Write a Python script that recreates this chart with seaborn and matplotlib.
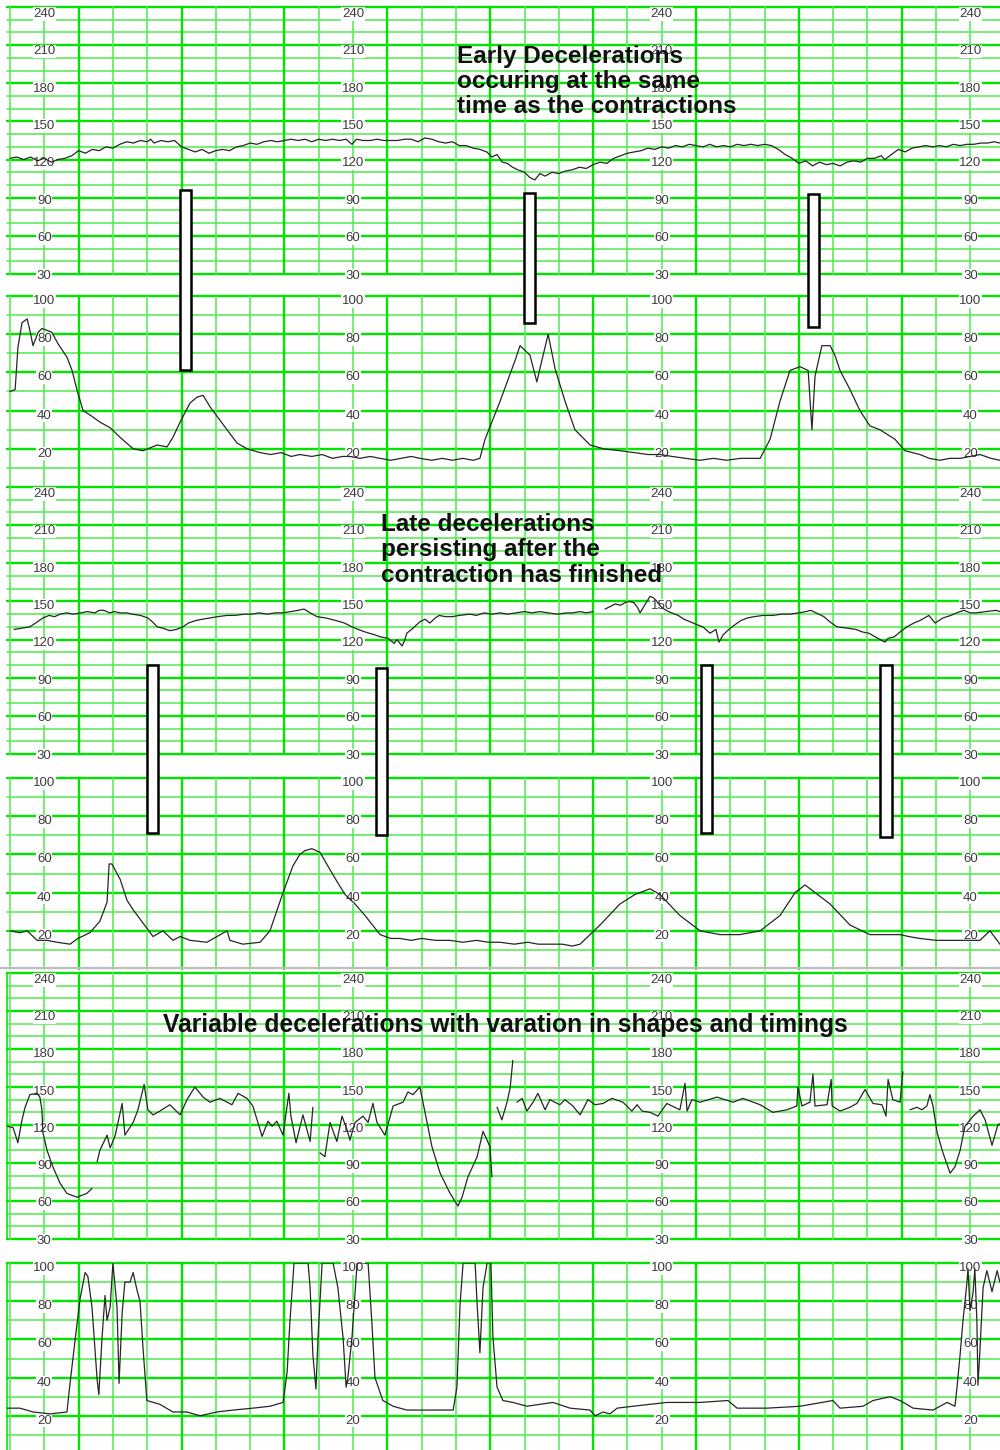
import numpy as np
import pandas as pd
import matplotlib
matplotlib.use("Agg")
import matplotlib.pyplot as plt
import seaborn as sns
from matplotlib.patches import Rectangle
from matplotlib.lines import Line2D

# ---------------- DATA ----------------
# time axis: chart minutes (one thin vertical grid line per unit)
NaN = np.nan

# strip 1 - early decelerations
fhr1_t = [0.0, 0.2, 0.4, 0.6, 0.8, 1.0, 1.2, 1.4, 1.6, 1.8, 2.0, 2.2, 2.4, 2.6, 2.8, 3.0, 3.2, 3.4,
          3.6, 3.8, 4.0, 4.1, 4.2, 4.4, 4.6, 4.8, 5.0, 5.2, 5.4, 5.6, 5.8, 6.0, 6.2, 6.4, 6.6, 6.8,
          7.0, 7.2, 7.4, 7.6, 7.8, 8.0, 8.2, 8.4, 8.6, 8.8, 9.0, 9.2, 9.4, 9.6, 9.8, 9.97, 10.1,
          10.3, 10.5, 10.7, 10.9, 11.1, 11.3, 11.5, 11.7, 11.9, 12.1, 12.3, 12.5, 12.7, 12.9, 13.1,
          13.3, 13.5, 13.7, 13.9, 14.05, 14.2, 14.35, 14.5, 14.65, 14.8, 15.0, 15.15, 15.3, 15.45,
          15.6, 15.8, 16.0, 16.2, 16.4, 16.6, 16.8, 17.0, 17.2, 17.4, 17.6, 17.8, 18.0, 18.2, 18.4,
          18.6, 18.8, 19.0, 19.2, 19.4, 19.6, 19.8, 20.0, 20.2, 20.4, 20.6, 20.8, 21.0, 21.2, 21.4,
          21.6, 21.8, 22.0, 22.2, 22.4, 22.6, 22.8, 23.0, 23.2, 23.4, 23.6, 23.8, 24.0, 24.2, 24.4,
          24.6, 24.8, 25.0, 25.2, 25.4, 25.5, 25.7, 25.9, 26.1, 26.3, 26.5, 26.7, 26.9, 27.1, 27.3,
          27.5, 27.7, 27.9, 28.1, 28.3, 28.5, 28.7, 28.86]
fhr1_v = [121, 122, 120, 122, 119, 121, 118, 120, 121, 123, 127, 125, 128, 127, 130, 129, 132, 134,
          133, 135, 134, 136, 133, 135, 134, 135, 130, 128, 126, 128, 125, 127, 128, 127, 130, 131,
          133, 132, 134, 135, 134, 135, 136, 135, 136, 134, 136, 135, 136, 135, 136, 132, 136,
          135, 135, 136, 135, 135, 135, 136, 136, 134, 137, 136, 134, 133, 134, 131,
          131, 129, 128, 126, 122, 124, 118, 117, 114, 112, 110, 106, 104, 109,
          107, 110, 109, 111, 112, 114, 113, 116, 118, 117, 121, 123, 125, 126, 127,
          129, 128, 130, 129, 131, 130, 132, 131, 130, 132, 130, 131, 130, 132, 131,
          132, 131, 132, 131, 128, 124, 121, 117, 119, 115, 118, 116, 117, 115, 118,
          119, 118, 121, 121, 123, 120, 124, 128, 126, 129, 130, 131, 130, 131, 130,
          132, 131, 132, 132, 133, 133, 134, 133]

toco1_t = [0, 0.15, 0.23, 0.35, 0.50, 0.58, 0.67, 0.82, 0.93, 1.08, 1.22, 1.40, 1.66, 1.81, 1.95, 2.13,
           2.39, 2.62, 2.92, 3.21, 3.59, 3.88, 4.29, 4.58, 4.75, 4.96, 5.25, 5.45, 5.63, 5.83, 6.12,
           6.41, 6.62, 6.91, 7.29, 7.6, 7.9, 8.2, 8.45, 8.8, 9.1, 9.4, 9.7, 9.91, 10.2, 10.5, 10.79,
           11.1, 11.4, 11.7, 11.95, 12.3, 12.6, 12.9, 13.2, 13.5, 13.70, 13.85, 14.29, 14.72, 14.87,
           15.16, 15.36, 15.45, 15.69, 15.89, 16.18, 16.47, 16.91, 17.3, 17.78, 18.2, 18.6, 18.95,
           19.3, 19.7, 20.12, 20.5, 20.9, 21.3, 21.6, 21.87, 22.16, 22.45, 22.74, 23.03, 23.27, 23.38,
           23.47, 23.67, 23.91, 24.05, 24.20, 24.49, 24.78, 25.07, 25.36, 25.80, 26.09, 26.53, 26.8,
           27.11, 27.4, 27.70, 28.0, 28.28, 28.6, 28.86]
toco1_v = [50, 51, 73, 86, 88, 82, 74, 81, 83, 82, 81, 75, 68, 61, 51, 40,
           37, 34, 31, 26, 20, 19, 22, 21, 26, 34, 44, 47, 48, 42, 35,
           28, 23, 20, 18, 17, 18, 16, 17, 16, 17, 15, 16, 16, 15, 16, 15,
           14, 15, 16, 15, 14, 15, 14, 15, 14, 15, 25, 45, 66, 74,
           69, 55, 62, 80, 62, 45, 30, 22, 20, 19, 18, 17, 17,
           16, 15, 14, 15, 14, 15, 15, 15, 25, 45, 61, 63, 61, 30,
           58, 74, 74, 69, 61, 51, 40, 32, 30, 25, 19, 17, 15,
           14, 15, 15, 16, 17, 15, 14]

# strip 2 - late decelerations
fhr2_t = [0.12, 0.35, 0.58, 0.8, 0.96, 1.14, 1.3, 1.46, 1.65, 1.85, 2.07, 2.25, 2.48, 2.6, 2.74, 2.9,
          3.05, 3.21, 3.4, 3.56, 3.8, 4.02, 4.15, 4.29, 4.45, 4.66, 4.85, 5.04, 5.2, 5.42, 5.6, 5.83,
          6.05, 6.33, 6.55, 6.85, 7.05, 7.26, 7.5, 7.73, 7.95, 8.19, 8.4, 8.57, 8.75, 8.95, 9.2, 9.5,
          9.75, 9.97, 10.15, 10.35, 10.6, 10.82, 11.02, 11.2, 11.28, 11.43, 11.5, 11.57, 11.75, 11.95,
          12.1, 12.24, 12.4, 12.51, 12.7, 12.89, 13.1, 13.41, 13.6, 13.82, 14.05, 14.29, 14.5, 14.75,
          15.0, 15.22, 15.45, 15.69, 15.95, 16.24, 16.4, 16.62, 16.8, 17.0, NaN,
          17.35, 17.5, 17.64, 17.8, 17.93, 18.05, 18.19, 18.3, 18.37, 18.5, 18.66, 18.75, 18.83, 19.01,
          19.2, 19.48, 19.65, 19.83, 20.0, 20.2, 20.41, 20.58, 20.67, 20.8, 20.96, 21.1, 21.31, 21.5,
          21.69, 21.95, 22.24, 22.5, 22.74, 23.0, 23.2, 23.35, 23.5, 23.73, 23.9, 24.11, 24.4, 24.66,
          24.85, 25.04, 25.3, 25.51, 25.6, 25.77, 25.95, 26.15, 26.35, 26.53, 26.79, 26.97, 27.2,
          27.43, 27.6, 27.81, 28.0, 28.16, 28.45, 28.75, 28.86]
fhr2_v = [128, 129, 130, 134, 137, 139, 138, 140, 141, 140, 141, 142, 141, 143, 143, 141,
          142, 141, 141, 140, 139, 137, 134, 130, 129, 127, 128, 130, 133, 135, 136, 137,
          138, 139, 139, 140, 140, 141, 140, 141, 141, 142, 143, 144, 141, 138, 137, 135,
          133, 130, 128, 126, 124, 122, 121, 117, 120, 115, 119, 125, 129, 134,
          136, 133, 137, 139, 138, 138, 139, 140, 139, 141, 140, 141, 140, 141,
          142, 141, 142, 141, 140, 141, 141, 142, 141, 142, NaN,
          144, 146, 148, 147, 149, 150, 149, 145, 141, 147, 154, 153, 151, 145,
          142, 139, 136, 134, 132, 130, 125, 128, 118, 124, 128, 131, 135, 137,
          138, 139, 139, 140, 140, 141, 142, 143, 141, 138, 134, 130, 129, 128,
          126, 125, 121, 118, 121, 122, 126, 130, 133, 135, 139, 133, 137,
          139, 141, 143, 141, 141, 142, 143, 142]

toco2_t = [0, 0.29, 0.50, 0.79, 1.08, 1.37, 1.75, 1.98, 2.33, 2.62, 2.83, 2.89, 2.97, 3.21, 3.41, 3.59,
           3.88, 4.17, 4.46, 4.75, 4.96, 5.25, 5.74, 6.33, 6.41, 6.79, 7.29, 7.58, 7.96, 8.25, 8.45,
           8.60, 8.80, 9.04, 9.33, 9.56, 9.77, 10.06, 10.35, 10.79, 11.1, 11.37, 11.7, 12.0, 12.4,
           12.83, 13.2, 13.6, 13.95, 14.29, 14.7, 15.1, 15.4, 15.74, 16.1, 16.4, 16.62,
           17.20, 17.78, 18.22, 18.66, 18.95, 19.53, 20.12, 20.70, 21.28, 21.87, 22.45, 22.89, 23.18,
           23.47, 23.91, 24.49, 25.07, 25.5, 25.95, 26.2, 26.53, 27.0, 27.41, 27.9, 28.28, 28.57, 28.86]
toco2_v = [20, 19, 20, 15, 15, 14, 13, 16, 19, 25, 35, 55, 55, 47, 36, 31,
           24, 17, 20, 15, 17, 15, 14, 20, 15, 13, 14, 20, 40, 54, 60,
           62, 63, 61, 52, 45, 39, 34, 28, 18, 16, 16, 15, 16, 15,
           15, 14, 15, 14, 14, 13, 14, 13, 13, 13, 12, 13,
           23, 34, 39, 42, 39, 28, 20, 18, 18, 20, 28, 40, 44,
           40, 34, 23, 18, 18, 18, 17, 16, 15, 15, 15, 15, 20, 13]

# strip 3 - variable decelerations
fhr3_t = [-0.09, 0.09, 0.23, 0.35, 0.44, 0.58, 0.79, 0.87, 0.93, 0.96, 1.08, 1.25, 1.46, 1.66, 1.95,
          2.24, 2.39, NaN,
          2.54, 2.62, 2.83, 2.92, 3.06, 3.27, 3.35, 3.59, 3.73, 3.91, 4.02, 4.17, 4.37, 4.66, 4.96,
          5.16, 5.39, 5.63, 5.83, 6.12, 6.47, 6.65, 6.91, 7.08, 7.35, 7.52, 7.64, 7.78, 7.96, 8.13,
          8.19, 8.34, 8.54, 8.75, 8.83, NaN,
          9.04, 9.18, 9.33, 9.53, 9.68, 9.83, 9.91, 10.06, 10.29, 10.44, 10.58, 10.70, 10.93, 11.17,
          11.46, 11.60, 11.75, 11.95, 12.10, 12.30, 12.54, 12.83, 13.06, 13.18, 13.35, 13.62, 13.79,
          13.91, 13.99, 14.05, NaN,
          14.20, 14.34, 14.49, 14.58, 14.66, NaN,
          14.78, 14.93, 15.07, 15.25, 15.39, 15.60, 15.74, 16.03, 16.18, 16.41, 16.62, 16.85, 17.06,
          17.29, 17.55, 17.87, 18.13, 18.28, 18.43, 18.66, 18.89, 19.15, 19.53, 19.68, 19.74, 19.88,
          20.12, 20.61, 21.08, 21.37, 21.87, 22.24, 22.65, 22.94, 22.97, 23.09, 23.32, 23.41, 23.47,
          23.82, 23.94, 23.97, 24.20, 24.49, 24.69, 24.93, 25.16, 25.42, 25.54, 25.60, 25.74, 25.95,
          26.03, NaN,
          26.24, 26.44, 26.59, 26.73, 26.82, 26.91, 27.03, 27.20, 27.41, 27.55, 27.70, 27.84, 28.08,
          28.28, 28.43, 28.63, 28.80, 28.86]
fhr3_v = [119, 118, 106, 124, 134, 144, 145, 142, 132, 114, 100, 87, 74, 66, 63,
          66, 70, NaN,
          91, 100, 112, 102, 111, 137, 112, 122, 132, 152, 132, 128, 131, 136, 128,
          140, 150, 142, 138, 141, 136, 145, 141, 135, 111, 123, 119, 123, 112, 145,
          127, 106, 128, 107, 134, NaN,
          98, 95, 122, 107, 127, 116, 108, 122, 127, 122, 137, 122, 112, 135,
          138, 146, 144, 150, 130, 103, 82, 66, 56, 63, 79, 95, 115,
          108, 103, 79, NaN,
          134, 124, 138, 149, 171, NaN,
          138, 141, 131, 138, 145, 132, 140, 136, 140, 135, 128, 140, 136,
          137, 141, 138, 131, 136, 131, 130, 127, 137, 132, 153, 131, 140,
          138, 142, 138, 141, 136, 130, 132, 135, 150, 135, 138, 160, 135,
          136, 156, 135, 131, 134, 137, 148, 137, 136, 127, 156, 140, 138,
          162, NaN,
          132, 134, 132, 135, 144, 135, 114, 98, 82, 87, 100, 119, 127,
          132, 124, 104, 120, 121]

toco3_t = [-0.09, 0.29, 0.67, 1.17, 1.66, 1.75, 1.90, 2.04, 2.19, 2.27, 2.39, 2.54, 2.59, 2.68, 2.77,
           2.83, 2.92, 3.00, 3.12, 3.18, 3.27, 3.35, 3.50, 3.59, 3.70, 3.79, 3.88, 3.99, 4.37, 4.75,
           5.16, 5.54, 6.03, 6.50, 7.08, 7.58, 7.96, 8.08, 8.16, 8.28, 8.69, 8.75, 8.83, 8.92, 8.98,
           9.10, 9.42, 9.56, 9.71, 9.80, 9.85, 9.97, 10.12, 10.44, 10.55, 10.64, 10.87, 11.17, 11.57,
           12.16, 12.92, 13.03, 13.12, 13.21, 13.56, 13.62, 13.70, 13.79, 13.91, 14.02, 14.08, 14.20,
           14.37, 14.66, 15.07, 15.83, 16.33, 16.91, 17.06, 17.29, 17.49, 17.70, 18.16, 19.15, 20.12,
           20.93, 21.20, 21.66, 22.07, 23.03, 23.99, 24.20, 24.87, 25.16, 25.66, 25.95, 26.33, 26.91,
           27.32, 27.55, 27.61, 27.70, 27.78, 27.90, 27.93, 27.99, 28.08, 28.13, 28.19, 28.22, 28.28,
           28.37, 28.48, 28.63, 28.78, 28.86]
toco3_v = [24, 24, 22, 21, 22, 37, 60, 81, 95, 93, 77, 39, 31, 60, 83,
           70, 77, 100, 77, 37, 74, 90, 90, 95, 86, 80, 55, 28, 26, 22,
           22, 20, 22, 23, 24, 25, 27, 43, 69, 100, 100, 87, 52, 34, 61,
           100, 100, 87, 61, 35, 40, 61, 100, 100, 69, 40, 28, 25, 23,
           23, 23, 35, 78, 100, 100, 78, 53, 87, 100, 100, 61, 35,
           28, 27, 25, 27, 24, 23, 20, 22, 21, 24, 25, 27, 27,
           28, 24, 24, 24, 25, 28, 24, 25, 28, 30, 28, 24, 23,
           27, 25, 35, 52, 69, 90, 97, 75, 85, 97, 69, 36, 55,
           87, 96, 85, 96, 90]

fhr_labels = [240, 210, 180, 150, 120, 90, 60, 30]
toco_labels = [100, 80, 60, 40, 20]
label_columns = [1, 10, 19, 28]

titles = ["Early Decelerations\noccuring at the same\ntime as the contractions",
          "Late decelerations\npersisting after the\ncontraction has finished",
          "Variable decelerations with varation in shapes and timings"]

# marker boxes: (strip, t_start, t_end, fhr_top, toco_bottom)
boxes = [(0, 4.96, 5.28, 96, 61), (0, 14.99, 15.31, 94, 86), (0, 23.27, 23.59, 93, 84),
         (1, 3.99, 4.31, 100, 71), (1, 10.67, 10.99, 98, 70), (1, 20.15, 20.47, 100, 71),
         (1, 25.36, 25.71, 100, 69)]

# ---------------- STYLE / LAYOUT ----------------
sns.set_style("white")
plt.rcParams['font.family'] = ['Liberation Sans', 'DejaVu Sans']

W, H = 1000, 1450
fig = plt.figure(figsize=(W / 100, H / 100), dpi=100)
fig.patch.set_facecolor('white')

X0, X1 = 7, 1000
XLIM = (-0.0875, 28.863)
THICK_C, THIN_C = '#00e400', '#55ec55'
THICK_LW, THIN_LW = 1.7, 1.15
TRACE_C = '#262626'

# pixel rows of panels: (fhr_top, fhr_bottom, toco_top, toco_bottom)
rows = [(7, 274, 296, 487), (487, 754, 778, 969), (973, 1239, 1263, 1454)]


def make_ax(ytop, ybot):
    return fig.add_axes([X0 / W, 1 - ybot / H, (X1 - X0) / W, (ybot - ytop) / H])


def draw_grid(ax, kind, border=False):
    if kind == 'fhr':
        vals, major = range(30, 241, 10), 30
    else:
        vals, major = range(10, 101, 10), 20
    for v in vals:
        if v % major == 0:
            ax.axhline(v, color=THICK_C, lw=THICK_LW, zorder=1, clip_on=False)
        else:
            ax.axhline(v, color=THIN_C, lw=THIN_LW, zorder=1, clip_on=False)
    for k in range(0, 29):
        if k % 3 == 2:
            ax.axvline(k, color=THICK_C, lw=THICK_LW, zorder=1, clip_on=False)
        else:
            ax.axvline(k, color=THIN_C, lw=THIN_LW, zorder=1, clip_on=False)
    if border:
        ax.axvline(XLIM[0], color=THICK_C, lw=THIN_LW, zorder=1, clip_on=False)


def draw_labels(ax, labels, kind):
    for c in label_columns:
        for i, v in enumerate(labels):
            if kind == 'fhr':
                dy = -(5.0 - 0.55 * i)
            else:
                dy = -3.6
            ax.annotate(str(v), (c, v), xytext=(0, dy), textcoords='offset points',
                        ha='center', va='center', fontsize=9.5, color='#3c3c3c',
                        family=['Liberation Sans Narrow', 'Liberation Sans', 'DejaVu Sans'],
                        bbox=dict(boxstyle='square,pad=0.05', fc='white', ec='none'),
                        zorder=2, annotation_clip=False)


def draw_trace(ax, t, v):
    t = np.asarray(t, float)
    v = np.asarray(v, float)
    seg = np.cumsum(np.isnan(v))
    df = pd.DataFrame({'t': t, 'v': v, 'seg': seg}).dropna()
    sns.lineplot(data=df, x='t', y='v', units='seg', estimator=None, sort=False,
                 color=TRACE_C, lw=0.9, ax=ax, legend=False, zorder=3)


data = [(fhr1_t, fhr1_v, toco1_t, toco1_v),
        (fhr2_t, fhr2_v, toco2_t, toco2_v),
        (fhr3_t, fhr3_v, toco3_t, toco3_v)]

fhr_axes, toco_axes = [], []
for i, (ft, fv, tt, tv) in enumerate(data):
    ftop, fbot, ttop, tbot = rows[i]
    axf = make_ax(ftop, fbot)
    axt = make_ax(ttop, tbot)
    for ax, kind, (x, y), lim in [(axf, 'fhr', (ft, fv), (30, 240)), (axt, 'toco', (tt, tv), (0, 100))]:
        draw_grid(ax, kind, border=(i == 2))
        draw_trace(ax, x, y)
        ax.set_xlim(*XLIM)
        ax.set_ylim(*lim)
        ax.set_axis_off()
    draw_labels(axf, fhr_labels, 'fhr')
    draw_labels(axt, toco_labels, 'toco')
    fhr_axes.append(axf)
    toco_axes.append(axt)

# annotation texts
fhr_axes[0].text(13.03, 210, titles[0], ha='left', va='top', fontsize=17.5, fontweight='bold',
                 color='#111111', linespacing=1.1, zorder=4)
fhr_axes[1].text(10.82, 219.5, titles[1], ha='left', va='top', fontsize=17.5, fontweight='bold',
                 color='#111111', linespacing=1.13, zorder=4)
fhr_axes[2].text(4.46, 199, titles[2], ha='left', va='center', fontsize=17.7, fontweight='bold',
                 color='#111111', zorder=4)

# separator between strip 2 and 3
fig.add_artist(Line2D([0, 1], [1 - 968 / H, 1 - 968 / H], transform=fig.transFigure,
                      color='#bdbdbd', lw=1.6, zorder=0.5))

# marker boxes spanning heart-rate and contraction panels
inv = fig.transFigure.inverted()
for s, t0, t1, ftop, tbot in boxes:
    p0 = inv.transform(fhr_axes[s].transData.transform((t0, ftop)))
    p1 = inv.transform(toco_axes[s].transData.transform((t1, tbot)))
    rect = Rectangle((p0[0], p1[1]), p1[0] - p0[0], p0[1] - p1[1], transform=fig.transFigure,
                     facecolor='white', edgecolor='black', lw=1.8, zorder=5)
    fig.add_artist(rect)

fig.savefig('out.png', dpi=100, facecolor='white')
